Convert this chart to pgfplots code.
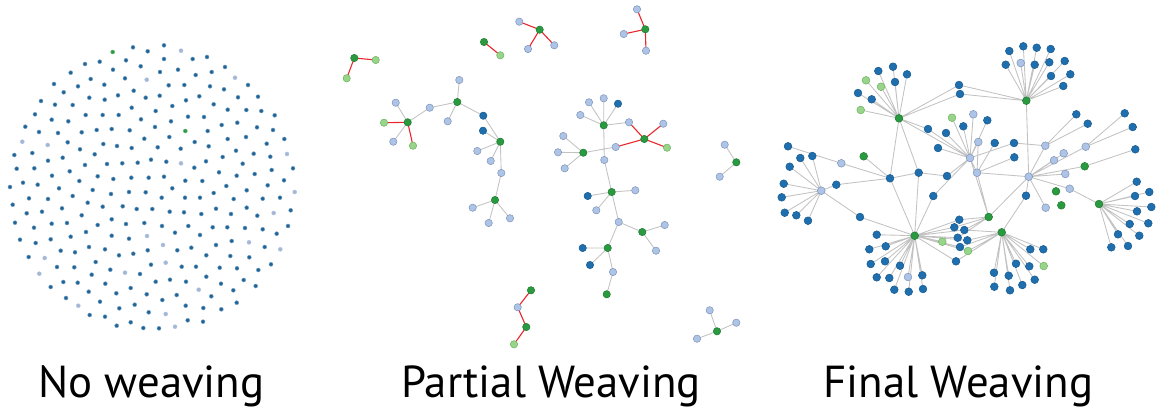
\documentclass[border=0pt]{standalone}
\usepackage{pgfplots}
\pgfplotsset{compat=1.18}
\usepackage{fontspec}
\setmainfont{PT Sans}
\definecolor{cDB}{HTML}{1F6EAD}
\definecolor{cDBe}{HTML}{175A8F}
\definecolor{cLB}{HTML}{AEC4E6}
\definecolor{cLBe}{HTML}{7D93BA}
\definecolor{cG}{HTML}{2A9A40}
\definecolor{cGe}{HTML}{1E7A30}
\definecolor{cLG}{HTML}{98D48A}
\definecolor{cLGe}{HTML}{6CB35F}
\definecolor{cEdge}{HTML}{C2C2C2}
\definecolor{cRed}{HTML}{E8262B}
\definecolor{cP1}{HTML}{1D6397}
\pgfplotsset{
  nd/.style n args={3}{only marks, mark=*, mark size=#1, mark options={fill=#2, draw=#3, line width=0.5pt}},
  gedge/.style={no markers, color=cEdge, line width=0.85pt, unbounded coords=jump},
  redge/.style={no markers, color=cRed, line width=1.1pt, unbounded coords=jump},
}
\begin{document}
\begin{tikzpicture}
\begin{axis}[
  scale only axis, width=1157bp, height=410bp,
  xmin=0, xmax=1157, ymin=0, ymax=410, y dir=reverse,
  hide axis, clip=false]
\path (axis cs:0,0) rectangle (axis cs:1157,410);
% ---------------- Panel 1: no weaving ----------------
\addplot[nd={2.0}{cP1}{cP1!60!white}] coordinates {
(133,47.3)(147.7,51.3)(99.7,61.7)(126,60.3)(85,64)(140.7,66.3)(70.7,72.7)(113,69.7)(125,78.3)
(54,84)(90.7,79)(104.3,84.7)(78,86.3)(63.7,92.3)(133.7,90.7)(118,95.3)(145.7,97.7)(89.3,97.7)
(104.7,99.7)(41,101)(55,104.7)(72.7,105)(131.7,107.7)(35,114.3)(85.7,115)(102.7,115)(118.7,115)
(51.7,119.7)(68.3,121.3)(141,119.3)(25.3,126.7)(39,132)(58,133)(81.7,132.3)(96.7,130)(111.7,129)
(129.7,130.3)(144.3,138.7)(67.7,142.3)(103.3,144)(117,146)(131.7,148)(14.3,155)(32.3,153)
(80,149.3)(94.7,154.3)(62.7,157.7)(48,160.7)(16.7,168.7)(34.3,168.3)(85,165)(107,164)(122.3,163.3)
(137.7,162.7)(69.7,171.3)(52,175.7)(97.7,176.3)(113.3,179)(131.3,177.7)(148.7,177.7)
(10,187)(23,182.7)(37.7,184.7)(59,188.3)(79.3,181)(92.7,190)(12.7,204.7)(29,198.3)(48,199)
(72.7,196)(111,194)(129,192)(145.7,192.3)(26.7,213.3)(42,211.7)(62,208.3)(87.7,202.7)(102.7,206.7)
(122.7,206.3)(136.7,209)(15,222.7)(34,227.7)(51.7,223.7)(67,223)(81.7,215.3)(111.7,219.3)(126,224)
(144.3,223)(20,239.7)(35.7,243)(50.7,239.3)(70.7,236.7)(86,232)(97.7,225)(111.7,235.7)(129,238.7)
(28.7,257)(60.7,250.7)(75,252.3)(89,247)(105,249.3)(119,255.3)(133.3,253.7)(147.7,250.3)
(57,267)(74.3,267.3)(95.7,262)(110.3,269.7)(140,274)(50.7,287)(63.3,282)(77.7,282.7)(91.7,274.7)
(105.3,283.7)(130.7,288)(146.7,294.3)(66,298)(88.7,291.7)(100,301.7)(116.3,293.3)(134.7,304.7)
(89.7,315)(105,316.7)(119.3,308.3)(148.7,312.3)(116.7,325.7)(130.7,322.3)(143.3,328)
(164,45.3)(164,59)(192.7,59)(207,57)(160,72)(178,69.7)(195.7,75)(211.7,72)(225,67)
(168.7,85.3)(184.3,85)(210,86.3)(224,89.3)(248,85)(159.7,95.7)(186,100.3)(199.3,96.3)(213.7,104.3)
(238,97.3)(258,96.7)(155.7,111)(172.3,106)(188,116.7)(204,117)(227.7,109.7)(246.3,110)(261.3,111)
(274.7,115.3)(155,127)(171,121.3)(207.7,131)(221.7,125)(237.3,122.7)(257,127.3)(273,130)
(169.3,137)(194.7,142)(208.7,146.3)(227.7,139)(246,137)(266.7,143.7)(284.3,139)(157.7,147.3)
(180.7,148.7)(222.7,157)(236,150.7)(253.7,153.7)(270.3,156.7)(151,159.7)(166.3,161.7)(194.3,167.7)
(206,161.3)(242.7,163.7)(219,172.3)(236.7,175.7)(254.7,174)(271.7,170)(293,168.3)(164,176.7)
(185.3,180.7)(202.3,181)(172.3,188.3)(226.3,186)(267.7,185.3)(284,180.3)(246.7,190.3)
(161.7,197.7)(185,197.7)(200,197.7)(213.7,193)(233.7,199)(262.7,198.7)(280,197.7)
(152.3,209)(169.7,211.7)(184,212.3)(201.3,214)(216,208.7)(231,214)(246.7,207.7)(257.3,215.7)(290.7,210.3)
(162,226)(175,232.7)(188.3,226)(200,235)(212.7,227.3)(227.3,227.3)(245,228)(262.7,229.3)(276.7,233.7)(288,226)
(177.3,250.3)(191.3,247.7)(206.3,255.3)(216,245)(231.7,241)(264.7,247)
(151,264.7)(181.7,266.7)(196,266.7)(219.7,267.7)(230.3,256)(237,268.3)(249.3,257.3)(258.3,270)(271,264.3)
(155.7,281.7)(170,279.7)(186,281.7)(206.3,276.7)(221,283.7)(233.3,290.3)(243.7,280)(255.7,286)
(162.3,300)(176.7,295)(211.3,296.3)(236.7,302.7)(185.7,305.7)(203.3,308)(221.3,309.3)
(159,328.3)(187.7,320.3)(203,321.7)
};
\addplot[nd={2.0}{cLB!80!gray}{cLB}] coordinates {
(146.7,79.7)(22.3,141.7)(47.7,145)(181,50.7)(235,77.7)(287,154)(181,163.3)(44.7,258)(39.3,273.7)
(125,272.7)(78.3,305.7)(147,236)(294.7,192)(273.7,213)(163,245)(249,242.3)(280.3,249.3)(165.7,262.7)
(198.7,289.7)(165.7,314)(175,326.7)
};
\addplot[nd={2.0}{cG}{cG!70!white}] coordinates {(112.7,52)(185.3,131)};
% ---------------- Panel 2: partial weaving ----------------
\addplot[gedge] coordinates {
(395.7,102.7)(407.7,122.3)(393.3,141.7)(nan,nan)
(407.7,122.3)(429.7,107.7)(457.3,102)(459.3,80)(nan,nan)
(457.3,102)(447.7,121.3)(nan,nan)
(457.3,102)(483.3,115.7)(500.3,141.7)(483,130.7)(nan,nan)
(500.3,141.7)(477.3,151)(nan,nan)(500.3,141.7)(490.7,161)(nan,nan)
(500.3,141.7)(501.3,173)(495,200)(472.7,207.7)(nan,nan)
(495,200)(488.7,223)(nan,nan)(495,200)(510,218.3)(nan,nan)
(603.7,125.3)(589,102.3)(nan,nan)(603.7,125.3)(603.7,98.3)(nan,nan)
(603.7,125.3)(618,103.7)(nan,nan)(603.7,125.3)(580.3,115)(nan,nan)
(603.7,125.3)(629,122.3)(nan,nan)
(603.7,125.3)(604.3,160)(611.7,192)(587.7,196)(nan,nan)
(615.7,147)(583.3,152.7)(563.3,136)(nan,nan)
(583.3,152.7)(558,152.3)(nan,nan)(583.3,152.7)(564.7,168.3)(nan,nan)
(611.7,192)(596.3,210.3)(nan,nan)(611.7,192)(635.3,190.3)(nan,nan)
(611.7,192)(618.7,222)(642.3,232)(664.7,225)(nan,nan)
(642.3,232)(656,250.7)(nan,nan)
(618.7,222)(607.7,248)(582.7,248)(nan,nan)
(607.7,248)(590,265)(nan,nan)
(607.7,248)(613,272)(606.7,294.3)(nan,nan)
(724.7,144.7)(736.3,162.3)(719.7,176.7)(nan,nan)
(709.7,310.3)(717,331.3)(736.3,322.7)(nan,nan)
(717,331.3)(697,338.7)
};
\addplot[redge] coordinates {
(375.7,60)(354.3,58)(346.7,78.3)(nan,nan)
(484,42)(500.3,55.3)(nan,nan)
(519.3,21.7)(539.7,29.7)(528,49)(nan,nan)
(539.7,29.7)(554.3,45.3)(nan,nan)
(637,9.3)(645.3,29.3)(623.7,34)(nan,nan)
(645.3,29.3)(646,50.7)(nan,nan)
(384,122.7)(407.7,122.3)(413,145.7)(nan,nan)
(629,122.3)(644.3,139)(663.3,123.7)(nan,nan)
(644.3,139)(667,147.7)(nan,nan)
(644.3,139)(615.7,147)(nan,nan)
(531,290.3)(517.7,307.3)(526.3,327)(514,344.3)
};
\addplot[nd={3.7}{cLB}{cLBe}] coordinates {
(519.3,21.7)(528,49)(554.3,45.3)(637,9.3)(623.7,34)(646,50.7)(395.7,102.7)(393.3,141.7)(429.7,107.7)
(459.3,80)(447.7,121.3)(477.3,151)(490.7,161)(501.3,173)(472.7,207.7)(488.7,223)(510,218.3)
(589,102.3)(603.7,98.3)(580.3,115)(629,122.3)(604.3,160)(663.3,123.7)(615.7,147)(563.3,136)
(558,152.3)(564.7,168.3)(596.3,210.3)(635.3,190.3)(618.7,222)(664.7,225)(656,250.7)(613,272)
(517.7,307.3)(724.7,144.7)(719.7,176.7)(709.7,310.3)(736.3,322.7)(697,338.7)
};
\addplot[nd={3.7}{cDB}{cDBe}] coordinates {
(483.3,115.7)(483,130.7)(618,103.7)(587.7,196)(582.7,248)(590,265)
};
\addplot[nd={3.7}{cLG}{cLGe}] coordinates {
(375.7,60)(346.7,78.3)(500.3,55.3)(384,122.7)(413,145.7)(667,147.7)(514,344.3)
};
\addplot[nd={3.7}{cG}{cGe}] coordinates {
(354.3,58)(484,42)(539.7,29.7)(645.3,29.3)(407.7,122.3)(457.3,102)(500.3,141.7)(495,200)
(603.7,125.3)(644.3,139)(583.3,152.7)(611.7,192)(642.3,232)(607.7,248)(606.7,294.3)(531,290.3)
(526.3,327)(736.3,162.3)(717,331.3)
};
% ---------------- Panel 3: final weaving ----------------
\addplot[gedge] coordinates {
(899,118.3)(866,80.3)(899,118.3)(881,86.7)(899,118.3)(878.3,71)(899,118.3)(893,66.7)
(899,118.3)(907,74.3)(899,118.3)(895,82)(899,118.3)(858,93)(899,118.3)(871.7,99.3)
(899,118.3)(860.7,110)(899,118.3)(928,129)(899,118.3)(970,158)(899,118.3)(959,85)(1026.3,100.7)
(960,94)(899,118.3)(890,178.3)(899,118.3)(918.7,172.7)(nan,nan)
(1026.3,100.7)(1009.3,51)(1026.3,100.7)(1023.3,46.3)(1026.3,100.7)(1036.7,47.7)(1026.3,100.7)(1050.7,49)
(1026.3,100.7)(1005.7,64.7)(1026.3,100.7)(1020.7,63)(1026.3,100.7)(1034.7,64.7)(1026.3,100.7)(1049.3,62.3)
(1026.3,100.7)(1064.7,61)(1026.3,100.7)(1051,76)(1026.3,100.7)(1070.3,74.3)(1026.3,100.7)(1063.3,86)
(1026.3,100.7)(1028.7,176.7)(nan,nan)
(970,158)(928,129)(970,158)(938,148)(970,158)(946,133)(970,158)(952,117.7)(970,158)(963.3,126.3)
(970,158)(973.3,114.3)(970,158)(987.3,120.3)(970,158)(978.3,142)(977,172.7)(970,158)(947,176)
(918.7,172.7)(890,178.3)(863.7,156.3)(nan,nan)
(970,158)(1014,143)(1045.3,145.7)(1076.3,114.3)(nan,nan)(1045.3,145.7)(1087.7,123.7)(nan,nan)
(970,158)(933.3,196)(914.7,235.7)(nan,nan)(970,158)(988.7,217)(nan,nan)
(977,172.7)(994.7,143)(nan,nan)(977,172.7)(1014.3,157.3)(nan,nan)
(977,172.7)(1028.7,176.7)(nan,nan)(977,172.7)(988.7,217)(nan,nan)
(788,146.3)(841.3,163.3)(890,178.3)(nan,nan)
(821.3,190.7)(800.3,158)(821.3,190.7)(812.3,156)(821.3,190.7)(789.7,166.7)(821.3,190.7)(783.7,183.7)
(821.3,190.7)(781.7,197.3)(821.3,190.7)(784.7,212.7)(821.3,190.7)(796.3,215.3)(821.3,190.7)(808,220.7)
(821.3,190.7)(836.3,184.7)(890,178.3)(nan,nan)
(821.3,190.7)(860,217)(914.7,235.7)(nan,nan)
(914.7,235.7)(876.7,234.7)(914.7,235.7)(869.3,249.3)(914.7,235.7)(885.7,246.3)(914.7,235.7)(870.7,264)
(914.7,235.7)(885,261.3)(914.7,235.7)(900,265.7)(914.7,235.7)(876.7,277.3)(914.7,235.7)(889.3,278)
(914.7,235.7)(908,277)(914.7,235.7)(922.3,275.3)(914.7,235.7)(894.3,289.7)(914.7,235.7)(908.7,291.7)
(914.7,235.7)(923,289)(914.7,235.7)(890,178.3)(914.7,235.7)(918.7,172.7)(914.7,235.7)(942.3,241.7)
(914.7,235.7)(959.3,219.7)(914.7,235.7)(954.3,227.3)(914.7,235.7)(964.3,230)(914.7,235.7)(957.7,237.7)
(914.7,235.7)(967.3,240.3)(914.7,235.7)(960,247)(914.7,235.7)(968,251)(914.7,235.7)(956,261.3)(nan,nan)
(988.7,217)(959.3,219.7)(988.7,217)(954.3,227.3)(988.7,217)(964.3,230)(988.7,217)(957.7,237.7)
(988.7,217)(1028.7,176.7)(nan,nan)
(1001.7,232.3)(964.3,230)(1001.7,232.3)(967.3,240.3)(1001.7,232.3)(960,247)(1001.7,232.3)(968,251)
(1001.7,232.3)(956,261.3)(1001.7,232.3)(1026,195.7)(1028.7,176.7)(nan,nan)
(1001.7,232.3)(1030.3,249.3)(1001.7,232.3)(1043.3,249.3)(1001.7,232.3)(1016,263.7)(1001.7,232.3)(1029.3,266.3)
(1001.7,232.3)(1043.7,266)(1001.7,232.3)(994,272.7)(1001.7,232.3)(1008.7,275.7)(1001.7,232.3)(1034.7,279.7)
(1001.7,232.3)(994.3,286.7)(1001.7,232.3)(1010,290.3)(1001.7,232.3)(1022.3,285)(nan,nan)
(1028.7,176.7)(1045.7,207.7)(1028.7,176.7)(1065.3,174)(1028.7,176.7)(1045.3,145.7)
(1028.7,176.7)(1085.7,146.7)(1124.7,113.3)(nan,nan)(1085.7,146.7)(1132.7,127)(nan,nan)
(1028.7,176.7)(1084.7,166.3)(1135.3,149.3)(nan,nan)
(1028.7,176.7)(1063.7,153.3)(nan,nan)(1028.7,176.7)(1054,160.3)(nan,nan)
(1028.7,176.7)(1069.7,188.7)(1099,204)(nan,nan)
(1099,204)(1136.7,181.7)(1099,204)(1135,196)(1099,204)(1149.3,192)(1099,204)(1137,211.3)
(1099,204)(1151.3,207)(1099,204)(1129.7,224)(1099,204)(1148.3,223.3)(1099,204)(1118,234.3)
(1099,204)(1139.3,235.7)(1099,204)(1111.3,247.3)(1099,204)(1128,246)
};
\addplot[nd={3.9}{cDB}{cDBe}] coordinates {
(878.3,71)(893,66.7)(907,74.3)(895,82)(858,93)(871.7,99.3)(928,129)(959,85)(960,94)
(890,178.3)(918.7,172.7)(947,176)(933.3,196)(938,148)(946,133)(963.3,126.3)(987.3,120.3)(994.7,143)
(1014,143)(1014.3,157.3)
(1009.3,51)(1023.3,46.3)(1036.7,47.7)(1050.7,49)(1005.7,64.7)(1034.7,64.7)(1049.3,62.3)(1064.7,61)
(1051,76)(1070.3,74.3)(1063.3,86)
(1076.3,114.3)(1087.7,123.7)(1124.7,113.3)(1132.7,127)(1135.3,149.3)
(788,146.3)(800.3,158)(812.3,156)(789.7,166.7)(783.7,183.7)(781.7,197.3)(784.7,212.7)(796.3,215.3)
(808,220.7)(836.3,184.7)(860,217)
(876.7,234.7)(869.3,249.3)(885.7,246.3)(870.7,264)(885,261.3)(900,265.7)(876.7,277.3)(889.3,278)
(922.3,275.3)(894.3,289.7)(908.7,291.7)(923,289)
(959.3,219.7)(954.3,227.3)(964.3,230)(957.7,237.7)(967.3,240.3)(960,247)(956,261.3)
(1026,195.7)
(1030.3,249.3)(1043.3,249.3)(1016,263.7)(1029.3,266.3)(994,272.7)(1008.7,275.7)(1034.7,279.7)
(994.3,286.7)(1010,290.3)(1022.3,285)
(1136.7,181.7)(1135,196)(1149.3,192)(1137,211.3)(1151.3,207)(1129.7,224)(1148.3,223.3)(1118,234.3)
(1139.3,235.7)(1111.3,247.3)(1128,246)
};
\addplot[nd={3.9}{cLB}{cLBe}] coordinates {
(970,158)(1028.7,176.7)(821.3,190.7)(841.3,163.3)(1020.7,63)(973.3,114.3)(978.3,142)(977,172.7)
(1045.3,145.7)(1085.7,146.7)(1063.7,153.3)(1054,160.3)(1065.3,174)(1069.7,188.7)(1045.7,207.7)(908,277)
};
\addplot[nd={3.9}{cLG}{cLGe}] coordinates {
(866,80.3)(881,86.7)(860.7,110)(952,117.7)(942.3,241.7)(968,251)(1043.7,266)
};
\addplot[nd={3.9}{cG}{cGe}] coordinates {
(899,118.3)(1026.3,100.7)(914.7,235.7)(988.7,217)(1001.7,232.3)(1099,204)(863.7,156.3)
(1056,191.3)(1061.3,205.3)(1084.7,166.3)
};
% ---------------- Labels ----------------
\node[anchor=base, font=\fontsize{45}{50}\selectfont] at (axis cs:151.5,397) {No weaving};
\node[anchor=base, font=\fontsize{45}{50}\selectfont] at (axis cs:551,397) {Partial Weaving};
\node[anchor=base, font=\fontsize{45}{50}\selectfont] at (axis cs:958.5,397) {Final Weaving};
\end{axis}
\end{tikzpicture}
\end{document}
